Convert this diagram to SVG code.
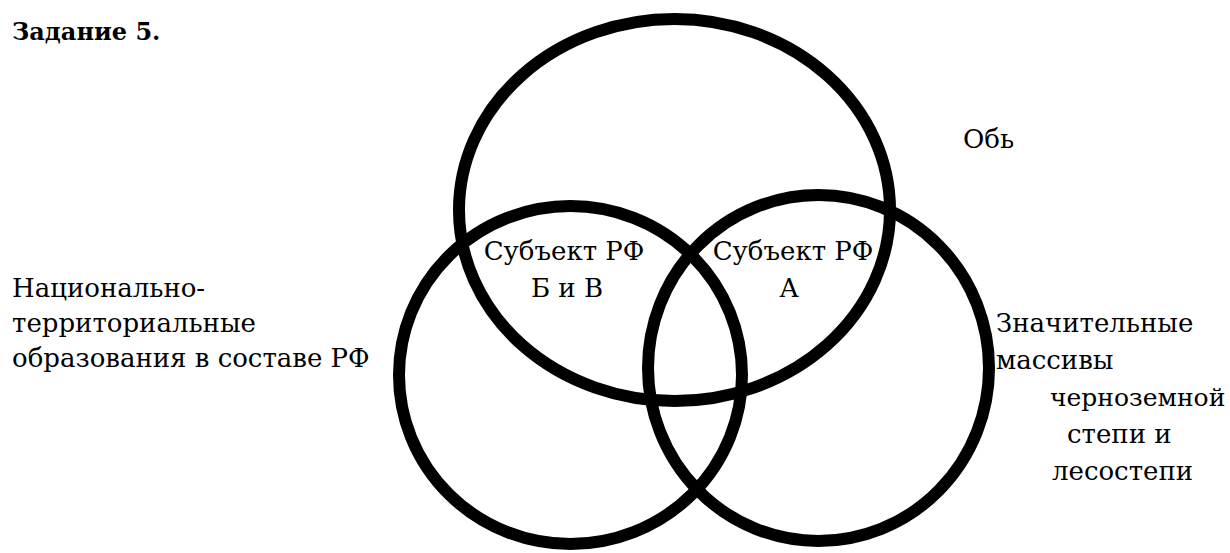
<svg xmlns="http://www.w3.org/2000/svg" width="1230" height="553" viewBox="0 0 1230 553">
<style>
.t{font-family:"DejaVu Serif",serif;font-size:26px;fill:#000}
.s{font-size:25px}
.b{font-weight:bold;font-size:24px}
.c{text-anchor:middle}
.e{fill:none;stroke:#000;stroke-width:12}
</style>
<rect width="1230" height="553" fill="#fff"/>
<text class="t b" x="12" y="40">Задание 5.</text>
<g id="connectors"></g>
<g id="set-ob">
<ellipse class="e" cx="674.5" cy="210" rx="215.5" ry="191"/>
<text class="t" x="963" y="148">Обь</text>
</g>
<g id="set-national">
<ellipse class="e" cx="570.5" cy="375" rx="171.5" ry="169"/>
<text class="t" x="12" y="297">Национально-</text>
<text class="t" x="12" y="332">территориальные</text>
<text class="t" x="12" y="367">образования в составе РФ</text>
</g>
<g id="set-chernozem">
<ellipse class="e" cx="818.5" cy="368" rx="170.5" ry="173"/>
<text class="t" x="996" y="332">Значительные</text>
<text class="t" x="996" y="369">массивы</text>
<text class="t s" x="1050" y="406">черноземной</text>
<text class="t" x="1067" y="443">степи и</text>
<text class="t" x="1052" y="480">лесостепи</text>
</g>
<g id="region-bv">
<text class="t c" x="564" y="260">Субъект РФ</text>
<text class="t c" x="567" y="297">Б и В</text>
</g>
<g id="region-a">
<text class="t c" x="793" y="260">Субъект РФ</text>
<text class="t c" x="789" y="297">А</text>
</g>
</svg>
